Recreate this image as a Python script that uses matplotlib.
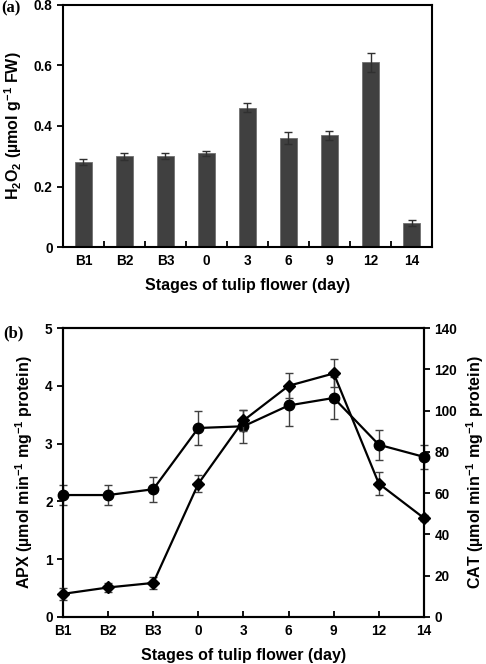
import numpy as np
import matplotlib
matplotlib.use('Agg')
import matplotlib.pyplot as plt

plt.rcParams['font.family'] = 'Liberation Sans'
plt.rcParams['font.weight'] = 'bold'
plt.rcParams['axes.labelweight'] = 'bold'
plt.rcParams['mathtext.fontset'] = 'custom'
plt.rcParams['mathtext.rm'] = 'Liberation Sans:bold'
plt.rcParams['mathtext.it'] = 'Liberation Sans:bold'
plt.rcParams['mathtext.bf'] = 'Liberation Sans:bold'

# data
stages = ['B1', 'B2', 'B3', '0', '3', '6', '9', '12', '14']
h2o2 = [0.28, 0.30, 0.30, 0.31, 0.46, 0.36, 0.37, 0.61, 0.08]
h2o2_err = [0.010, 0.012, 0.010, 0.008, 0.015, 0.020, 0.015, 0.030, 0.010]

apx = [2.11, 2.11, 2.21, 3.27, 3.30, 3.66, 3.79, 2.98, 2.77]
apx_err = [0.18, 0.18, 0.22, 0.29, 0.29, 0.36, 0.37, 0.26, 0.21]

cat = [11.2, 14.3, 16.5, 64.6, 95.2, 112.0, 118.0, 64.6, 47.9]
cat_err = [2.8, 2.3, 2.8, 4.0, 5.0, 6.0, 6.8, 5.6, 1.5]

fig = plt.figure(figsize=(4.86, 6.64), dpi=100)
tick_fs = 9.8
lab_fs = 11.5
x = np.arange(len(stages))

# ---------- (a) bars ----------
ax1 = fig.add_axes([0.1296, 0.628, 0.7593, 0.3645])
ax1.bar(x, h2o2, width=0.42, color='#404040', edgecolor='#707070', linewidth=0.6,
        yerr=h2o2_err, error_kw=dict(ecolor='#303030', elinewidth=1, capsize=3, capthick=1))
ax1.set_xlim(-0.5, len(stages) - 0.5)
ax1.set_ylim(0, 0.8)
ax1.set_yticks([0, 0.2, 0.4, 0.6, 0.8])
ax1.set_yticklabels(['0', '0.2', '0.4', '0.6', '0.8'])
ax1.set_xticks(x)
ax1.set_xticklabels(stages)
ax1.set_xticks(x[:-1] + 0.5, minor=True)
ax1.tick_params(axis='x', which='major', length=0, labelsize=tick_fs, pad=5)
ax1.tick_params(axis='x', which='minor', direction='in', length=4, width=1.3)
ax1.tick_params(axis='y', direction='out', length=4, width=1.3, labelsize=tick_fs)
for s in ax1.spines.values():
    s.set_linewidth(1.5)
ax1.set_xlabel('Stages of tulip flower (day)', fontsize=lab_fs, labelpad=7)
ax1.set_ylabel('H$_2$O$_2$ (µmol g$^{-1}$ FW)', fontsize=lab_fs, labelpad=7)
fig.text(0.002, 0.982, '(a)', family='Liberation Serif', fontweight='bold', fontsize=12)

# ---------- (b) lines ----------
ax2 = fig.add_axes([0.1296, 0.0708, 0.7428, 0.4352])
ax2.errorbar(x, apx, yerr=apx_err, color='black', lw=1.6, marker='o', ms=7.5,
             ecolor='#404040', elinewidth=1, capsize=3, capthick=1, clip_on=False, zorder=3)
ax2.set_xlim(0, len(stages) - 1)
ax2.set_ylim(0, 5)
ax2.set_yticks([0, 1, 2, 3, 4, 5])
ax2.set_xticks(x)
ax2.set_xticklabels(stages)
ax2.tick_params(axis='x', direction='in', length=4, width=1.3, labelsize=tick_fs, pad=5)
ax2.tick_params(axis='y', direction='out', length=4, width=1.3, labelsize=tick_fs)
ax2.set_xlabel('Stages of tulip flower (day)', fontsize=lab_fs, labelpad=7)
ax2.set_ylabel('APX (µmol min$^{-1}$ mg$^{-1}$ protein)', fontsize=lab_fs, labelpad=7)

ax3 = ax2.twinx()
ax3.errorbar(x, cat, yerr=cat_err, color='black', lw=1.6, marker='D', ms=6,
             ecolor='#404040', elinewidth=1, capsize=3, capthick=1, clip_on=False, zorder=3)
ax3.set_ylim(0, 140)
ax3.set_yticks(np.arange(0, 141, 20))
ax3.tick_params(axis='y', direction='out', length=4, width=1.3, labelsize=tick_fs)
ax3.set_ylabel('CAT (µmol min$^{-1}$ mg$^{-1}$ protein)', fontsize=lab_fs, labelpad=5)
for a in (ax2, ax3):
    for s in a.spines.values():
        s.set_linewidth(1.5)
fig.text(0.006, 0.492, '(b)', family='Liberation Serif', fontweight='bold', fontsize=12)

fig.savefig('out.png', dpi=100)
